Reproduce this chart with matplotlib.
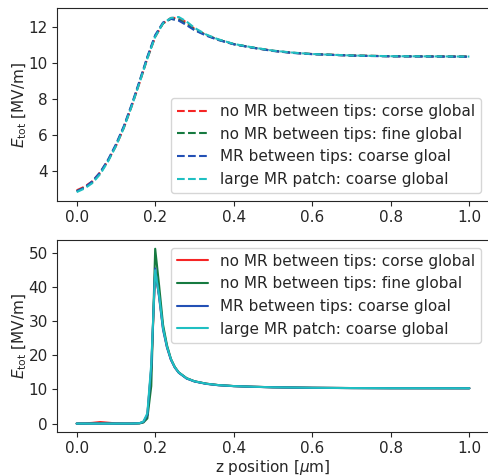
import numpy as np
import matplotlib
matplotlib.use("Agg")
import matplotlib.pyplot as plt
import seaborn as sns

sns.set_style("ticks")
plt.rcParams['font.family'] = ['DejaVu Sans']

labels = ["no MR between tips: corse global",
          "no MR between tips: fine global",
          "MR between tips: coarse gloal",
          "large MR patch: coarse global"]
colors = ["#f52525", "#167a40", "#2350b5", "#1fbfc2"]

# ---- top panel data (dashed) ----
z_top = [0.0, 0.02, 0.04, 0.06, 0.08, 0.10, 0.12, 0.14, 0.16, 0.18, 0.20, 0.22,
         0.24, 0.26, 0.28, 0.30, 0.33, 0.36, 0.40, 0.45, 0.50, 0.55, 0.60, 0.70,
         0.80, 0.90, 1.0]
top_red = [2.95, 3.15, 3.45, 3.95, 4.6, 5.4, 6.4, 7.6, 8.9, 10.25, 11.45, 12.2,
           12.5, 12.5, 12.25, 11.9, 11.55, 11.3, 11.05, 10.85, 10.68, 10.57, 10.5,
           10.42, 10.38, 10.37, 10.36]
top_green = [2.9, 3.1, 3.4, 3.9, 4.6, 5.45, 6.45, 7.65, 8.95, 10.3, 11.5, 12.2,
             12.45, 12.4, 12.15, 11.85, 11.55, 11.3, 11.05, 10.85, 10.68, 10.57,
             10.5, 10.42, 10.38, 10.37, 10.36]
top_blue = [2.9, 3.1, 3.45, 3.95, 4.65, 5.5, 6.5, 7.7, 9.0, 10.35, 11.55, 12.25,
            12.45, 12.35, 12.1, 11.82, 11.52, 11.28, 11.04, 10.84, 10.67, 10.56,
            10.49, 10.41, 10.37, 10.36, 10.35]
top_cyan = [2.85, 3.05, 3.35, 3.85, 4.55, 5.4, 6.4, 7.6, 8.9, 10.25, 11.45, 12.2,
            12.5, 12.55, 12.3, 11.95, 11.58, 11.32, 11.06, 10.86, 10.69, 10.58,
            10.5, 10.42, 10.38, 10.37, 10.36]

# ---- bottom panel data (solid) ----
z_bot = [0.0, 0.02, 0.04, 0.06, 0.08, 0.10, 0.12, 0.14, 0.16, 0.17, 0.18, 0.19,
         0.20, 0.21, 0.22, 0.23, 0.24, 0.25, 0.26, 0.28, 0.30, 0.33, 0.36, 0.40,
         0.45, 0.50, 0.60, 0.70, 0.80, 0.90, 1.0]
bot_red = [0.0, 0.05, 0.2, 0.45, 0.25, 0.05, 0.0, 0.0, 0.1, 0.5, 2.5, 16.0,
           44.5, 37.5, 28.0, 22.5, 18.8, 16.5, 15.0, 13.3, 12.4, 11.7, 11.3, 11.0,
           10.8, 10.65, 10.5, 10.42, 10.38, 10.37, 10.36]
bot_green = [0.0, 0.0, 0.0, 0.0, 0.0, 0.0, 0.0, 0.0, 0.05, 0.3, 1.5, 11.0,
             51.3, 40.5, 29.0, 23.0, 19.0, 16.6, 15.0, 13.3, 12.4, 11.7, 11.3, 11.0,
             10.8, 10.65, 10.5, 10.42, 10.38, 10.37, 10.36]
bot_blue = [0.0, 0.0, 0.0, 0.0, 0.0, 0.0, 0.0, 0.0, 0.1, 0.5, 2.5, 16.5,
            45.5, 37.0, 27.5, 22.3, 18.7, 16.4, 14.9, 13.2, 12.35, 11.65, 11.25,
            10.98, 10.78, 10.64, 10.49, 10.41, 10.37, 10.36, 10.35]
bot_cyan = [0.0, 0.0, 0.0, 0.0, 0.0, 0.0, 0.0, 0.0, 0.1, 0.6, 3.0, 17.5,
            45.0, 37.5, 28.0, 22.6, 18.9, 16.5, 15.0, 13.3, 12.4, 11.7, 11.3, 11.0,
            10.8, 10.65, 10.5, 10.42, 10.38, 10.37, 10.36]

fig = plt.figure(figsize=(4.89, 4.76), dpi=100)
ax1 = fig.add_axes([0.1166, 0.578, 0.8834, 0.4046])
ax2 = fig.add_axes([0.1166, 0.0918, 0.8834, 0.404])

for y, c, l in zip([top_red, top_green, top_blue, top_cyan], colors, labels):
    ax1.plot(z_top, y, ls="--", color=c, lw=1.5, label=l)
for y, c, l in zip([bot_red, bot_green, bot_blue, bot_cyan], colors, labels):
    ax2.plot(z_bot, y, ls="-", color=c, lw=1.5, label=l)

for ax in (ax1, ax2):
    ax.set_xticks([0.0, 0.2, 0.4, 0.6, 0.8, 1.0])
    ax.tick_params(labelsize=11, pad=3)
    ax.set_ylabel(r"$E_\mathrm{tot}$ [MV/m]", fontsize=11, labelpad=0)

ax1.set_yticks([4, 6, 8, 10, 12])
ax2.set_yticks([0, 10, 20, 30, 40, 50])
ax2.set_xlabel(r"z position [$\mu$m]", fontsize=11, labelpad=1)

ax1.legend(loc="lower right", fontsize=11, handlelength=2.0)
ax2.legend(loc="upper right", fontsize=11, handlelength=2.0)

fig.savefig("out.png", dpi=100)
